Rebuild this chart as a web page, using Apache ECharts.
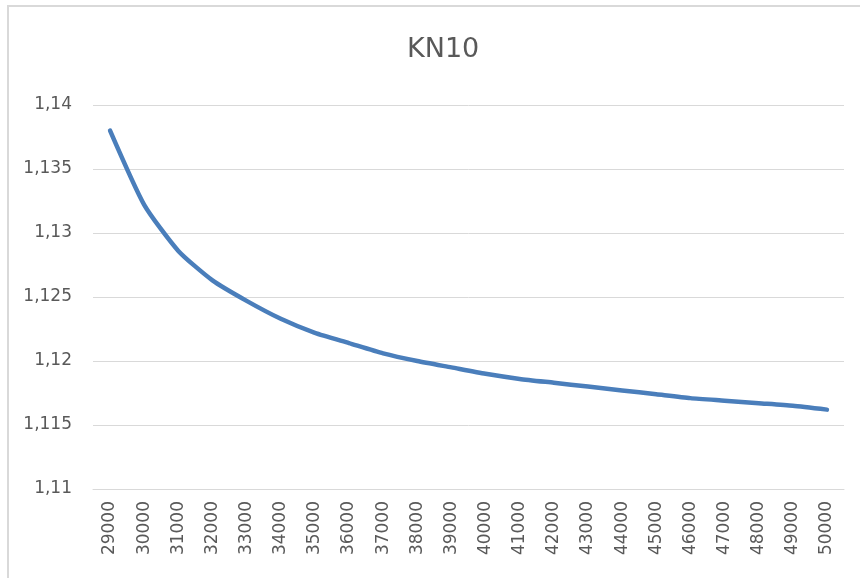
<!DOCTYPE html>
<html>
<head>
    <meta charset="utf-8" />
    <script src="https://cdn.jsdelivr.net/npm/echarts@6/dist/echarts.min.js"></script>
</head>
<body style="margin:0;">
<div id="main" style="width: 860px;height:578px;"></div>
<script>
    // data
    var categories = ['29000', '30000', '31000', '32000', '33000', '34000', '35000', '36000',
        '37000', '38000', '39000', '40000', '41000', '42000', '43000', '44000', '45000',
        '46000', '47000', '48000', '49000', '50000'];
    var values = [1.1380, 1.1322, 1.1286, 1.1263, 1.1247, 1.1233, 1.1222, 1.1214,
        1.1206, 1.1200, 1.1195, 1.1190, 1.1186, 1.1183, 1.1180, 1.1177, 1.1174,
        1.1171, 1.1169, 1.1167, 1.1165, 1.1162];
    var titleText = 'KN10';

    var chartDom = document.getElementById('main');
    var myChart = echarts.init(chartDom);
    var option;

    var labelColor = '#595959';
    var gridColor = '#d9d9d9';

    option = {
        backgroundColor: '#fff',
        animation: false,
        title: {
            text: titleText,
            left: 402,
            top: 31,
            textStyle: {
                fontFamily: 'DejaVu Sans',
                fontSize: 27,
                fontWeight: 'normal',
                color: labelColor
            }
        },
        // frame of the chart area: only top and left edges show in the picture
        graphic: [{
            type: 'polyline',
            shape: { points: [[8, 578], [8, 6], [860, 6]] },
            style: { fill: 'none', stroke: gridColor, lineWidth: 2 },
            silent: true
        }],
        grid: {
            left: 93,
            right: 16,
            top: 105,
            bottom: 89
        },
        xAxis: {
            type: 'category',
            data: categories,
            boundaryGap: true,
            axisLine: { lineStyle: { color: gridColor, width: 1 } },
            axisTick: { show: false },
            axisLabel: {
                rotate: 90,
                margin: 12,
                interval: 0,
                fontFamily: 'DejaVu Sans',
                fontSize: 17,
                color: labelColor
            }
        },
        yAxis: {
            type: 'value',
            min: 1.11,
            max: 1.14,
            interval: 0.005,
            axisLine: { show: false },
            axisTick: { show: false },
            splitLine: { lineStyle: { color: gridColor, width: 1 } },
            axisLabel: {
                margin: 21,
                fontFamily: 'DejaVu Sans',
                fontSize: 17,
                color: labelColor,
                formatter: function (v) {
                    return String(+v.toFixed(3)).replace('.', ',');
                }
            }
        },
        series: [{
            type: 'line',
            data: values,
            smooth: 0.2,
            showSymbol: false,
            lineStyle: { color: '#4a7ebb', width: 4.5, cap: 'round' },
            itemStyle: { color: '#4a7ebb' }
        }]
    };

    option && myChart.setOption(option);
</script>
</body>
</html>
